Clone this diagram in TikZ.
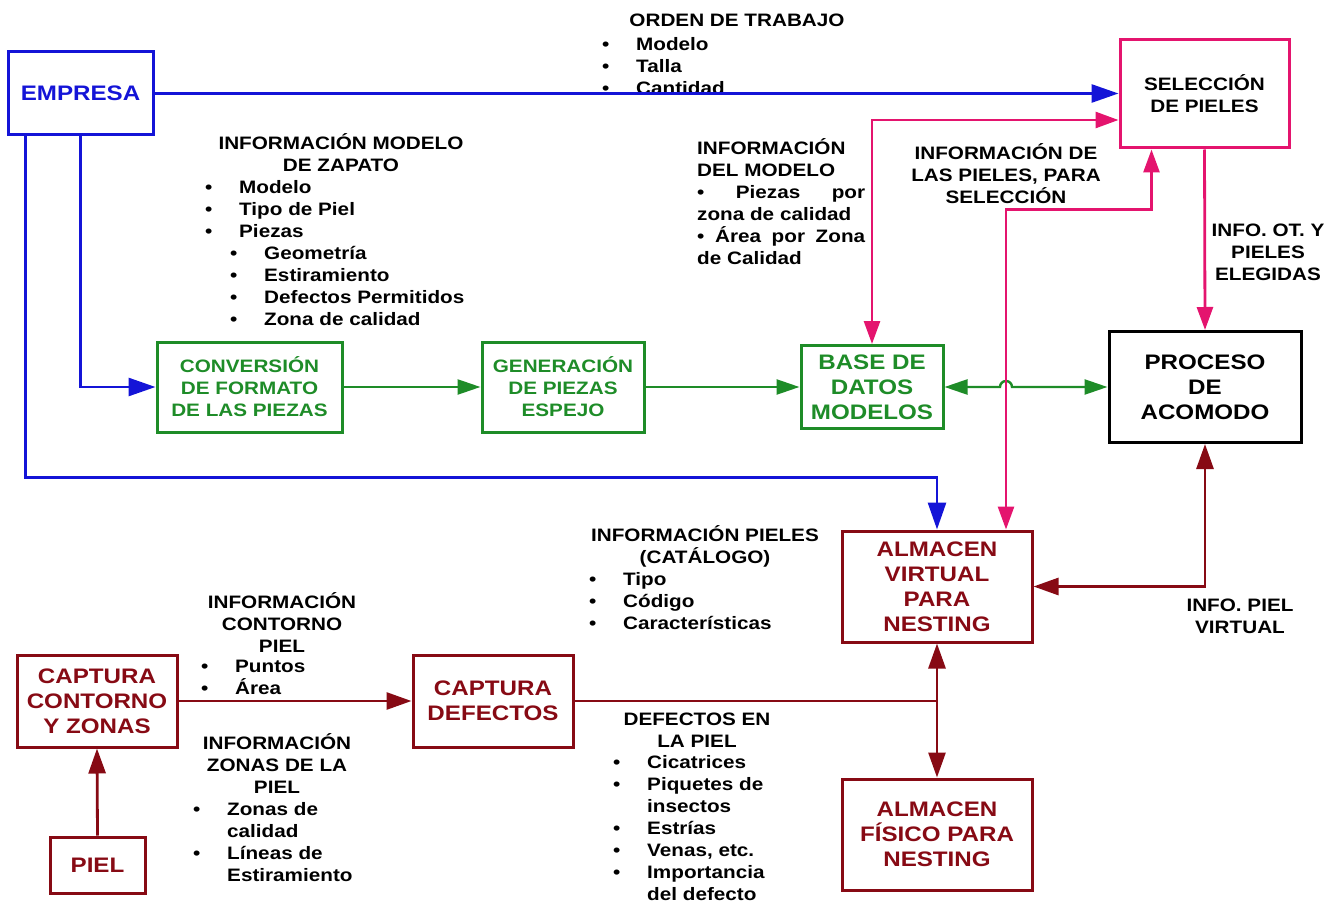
\documentclass[tikz,border=0pt]{standalone}
\usepackage{fontspec}
\setmainfont{Liberation Sans}[FakeStretch=1.15]
\usetikzlibrary{arrows.meta}

\definecolor{empblue}{RGB}{20,20,215}
\definecolor{selpink}{RGB}{228,20,110}
\definecolor{modgreen}{RGB}{30,140,40}
\definecolor{almred}{RGB}{135,10,20}

\newcommand{\itm}{\makebox[34pt][l]{\textbullet}}
\newcommand{\gap}{\hspace*{34pt}}

\begin{document}
\begin{tikzpicture}[x=1pt, y=-1pt,
  every node/.style={font=\fontsize{18}{22}\selectfont\bfseries, inner sep=0pt},
  big/.style={font=\fontsize{21}{25}\selectfont\bfseries},
  box/.style={draw, line width=3pt, align=center},
  bbox/.style={box, draw=empblue, text=empblue},
  gbox/.style={box, draw=modgreen, text=modgreen},
  rbox/.style={box, draw=almred, text=almred},
  bline/.style={draw=empblue, line width=2.8pt, >={Triangle[length=27pt,width=18pt]}},
  pline/.style={draw=selpink, line width=2.8pt, >={Triangle[length=23pt,width=16pt]}},
  gline/.style={draw=modgreen, line width=2.4pt, >={Triangle[length=23pt,width=15pt]}},
  rline/.style={draw=almred, line width=2.8pt, >={Triangle[length=25pt,width=17pt]}}]

  \useasboundingbox (0,0) rectangle (1336,904);

  % Boxes, top part
  \node[bbox, big, minimum width=145pt, minimum height=83pt] (emp) at (80.5,93.5) {EMPRESA};
  \node[box, draw=selpink, minimum width=169pt, minimum height=108pt] (sel) at (1204.5,94) {SELECCIÓN\\DE PIELES};
  \node[gbox, minimum width=185pt, minimum height=90pt] (conv) at (249.5,387) {CONVERSIÓN\\DE FORMATO\\DE LAS PIEZAS};
  \node[gbox, minimum width=162pt, minimum height=90pt] (gen) at (563,387) {GENERACIÓN\\DE PIEZAS\\ESPEJO};
  \node[gbox, big, minimum width=142pt, minimum height=83pt] (bdm) at (872,387) {BASE DE\\DATOS\\MODELOS};
  \node[box, big, minimum width=192pt, minimum height=111pt] (pa) at (1205,387) {PROCESO\\DE\\ACOMODO};

  % Boxes, bottom part
  \node[rbox, big, minimum width=190pt, minimum height=111pt] (avn) at (937,586.5) {ALMACEN\\VIRTUAL\\PARA\\NESTING};
  \node[rbox, big, minimum width=190pt, minimum height=111pt] (afn) at (937,834.5) {ALMACEN\\FÍSICO PARA\\NESTING};
  \node[rbox, big, minimum width=160pt, minimum height=92pt] (ccz) at (97,701) {CAPTURA\\CONTORNO\\Y ZONAS};
  \node[rbox, big, minimum width=95pt, minimum height=56pt] (piel) at (97.5,865) {PIEL};
  \node[rbox, big, minimum width=160pt, minimum height=92pt] (cdef) at (493,701) {CAPTURA\\DEFECTOS};

  % Labels
  \node[anchor=north] (otT) at (737,14) {ORDEN DE TRABAJO};
  \node[anchor=north west, align=left] (otL) at (602,37) {\itm Modelo\\\itm Talla\\\itm Cantidad};

  \node[anchor=north, align=center] (imzT) at (341,133) {INFORMACIÓN MODELO\\DE ZAPATO};
  \node[anchor=north west, align=left] (imzL) at (205,180) {\itm Modelo\\\itm Tipo de Piel\\\itm Piezas\\
    \hspace*{25pt}\itm Geometría\\\hspace*{25pt}\itm Estiramiento\\\hspace*{25pt}\itm Defectos Permitidos\\\hspace*{25pt}\itm Zona de calidad};

  \node[anchor=north west, align=left] (idmL) at (697,138.5) {INFORMACIÓN\\DEL MODELO\\
    \makebox[168pt][s]{\textbullet\ Piezas\ por}\\zona de calidad\\\makebox[168pt][s]{\textbullet\ Área por Zona}\\de Calidad};

  \node[anchor=north, align=center] (ipsT) at (1006,143.5) {INFORMACIÓN DE\\LAS PIELES, PARA\\SELECCIÓN};
  \node[anchor=north, align=center] (iotT) at (1268,224) {INFO. OT. Y\\PIELES\\ELEGIDAS};

  \node[anchor=north, align=center] (catT) at (705,525.5) {INFORMACIÓN PIELES\\(CATÁLOGO)};
  \node[anchor=north west, align=left] (catL) at (589,572) {\itm Tipo\\\itm Código\\\itm Características};

  \node[anchor=north, align=center] (ipvT) at (1240,599) {INFO. PIEL\\VIRTUAL};

  \node[anchor=north, align=center] (icpT) at (282,592.5) {INFORMACIÓN\\CONTORNO\\PIEL};
  \node[anchor=north west, align=left] (icpL) at (201,660) {\itm Puntos\\\itm Área};

  \node[anchor=north, align=center] (izpT) at (277,733.5) {INFORMACIÓN\\ZONAS DE LA\\PIEL};
  \node[anchor=north west, align=left] (izpL) at (193,802) {\itm Zonas de\\\gap calidad\\\itm Líneas de\\\gap Estiramiento};

  \node[anchor=north, align=center] (dlpT) at (697,713) {DEFECTOS EN\\LA PIEL};
  \node[anchor=north west, align=left] (dlpL) at (613,755) {\itm Cicatrices\\\itm Piquetes de\\\gap insectos\\
    \itm Estrías\\\itm Venas, etc.\\\itm Importancia\\\gap del defecto};

  % Edges from EMPRESA
  \draw[bline, ->] (emp.east) -- (emp.east -| sel.west);
  \draw[bline, ->] (emp.south) |- (conv.west);
  \draw[bline, ->] ([xshift=-55pt]emp.south) |- ([yshift=52pt]avn.north) -- (avn.north);

  % Edges of the models
  \coordinate (jmp) at (1006,387);
  \draw[gline, ->] (conv.east) -- (gen.west);
  \draw[gline, ->] (gen.east) -- (bdm.west);
  \draw[gline, <->] (bdm.east) -- ([xshift=-6pt]jmp) arc[start angle=180, end angle=0, radius=6pt] -- (pa.west);

  % Edges of the selection
  \draw[pline, <->] (bdm.north) |- ([yshift=-26pt]sel.west);
  \draw[pline, <->] ([xshift=69pt]avn.north) |- ([xshift=-53pt,yshift=-60pt]sel.south) -- ([xshift=-53pt]sel.south);
  \draw[pline, ->] (sel.south) -- (pa.north);

  % Edges of the skins
  \draw[rline, <->] (avn.east) -| (pa.south);
  \draw[rline, ->] (piel.north) -- (ccz.south);
  \draw[rline, ->] (ccz.east) -- (cdef.west);
  \draw[rline] (cdef.east) -- (cdef.east -| avn.south);
  \draw[rline, <->] (avn.south) -- (afn.north);

\end{tikzpicture}
\end{document}
